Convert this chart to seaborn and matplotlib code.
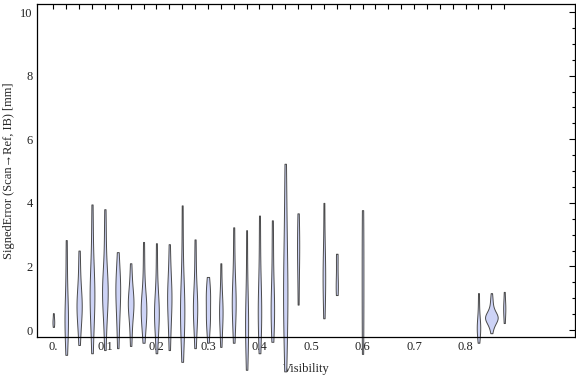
import numpy as np
import pandas as pd
import matplotlib
matplotlib.use("Agg")
import matplotlib.pyplot as plt
from matplotlib.ticker import MultipleLocator, FixedLocator
import seaborn as sns

sns.set_style("white")
plt.rcParams['font.family'] = ['Liberation Serif', 'DejaVu Serif']

# visibility bins (x positions of the violins)
visibility = [0.0, 0.025, 0.05, 0.075, 0.1, 0.125, 0.15, 0.175, 0.2, 0.225,
              0.25, 0.275, 0.3, 0.325, 0.35, 0.375, 0.4, 0.425, 0.45, 0.475,
              0.525, 0.55, 0.6, 0.825, 0.85, 0.875]

# signed error samples [mm], one list per visibility bin
e_000 = [0.1, 0.25, 0.3, 0.53]
e_025 = [-0.78, -0.1, 0.25, 0.35, 0.5, 1.0, 1.9, 2.83]
e_050 = [-0.47, 0.0, 0.3, 0.5, 0.65, 0.75, 0.85, 1.0, 1.2, 1.5, 2.0, 2.5]
e_075 = [-0.73, 0.0, 0.5, 0.8, 1.0, 1.2, 1.4, 1.6, 2.2, 3.0, 3.95]
e_100 = [-0.63, 0.0, 0.5, 0.85, 1.05, 1.15, 1.25, 1.35, 1.5, 1.8, 2.4, 3.1, 3.8]
e_125 = [-0.57, 0.0, 0.4, 0.7, 0.95, 1.15, 1.35, 1.5, 1.65, 2.0, 2.45]
e_150 = [-0.5, -0.1, 0.25, 0.5, 0.65, 0.75, 0.85, 0.9, 1.0, 1.15, 1.35, 1.7, 2.1]
e_175 = [-0.4, -0.05, 0.2, 0.4, 0.55, 0.62, 0.7, 0.78, 0.9, 1.1, 1.5, 2.1, 2.77]
e_200 = [-0.73, -0.2, 0.15, 0.35, 0.5, 0.6, 0.7, 0.85, 1.2, 1.9, 2.73]
e_225 = [-0.63, 0.0, 0.4, 0.7, 0.95, 1.1, 1.25, 1.5, 2.0, 2.7]
e_250 = [-1.0, -0.3, 0.2, 0.45, 0.65, 0.8, 1.0, 1.5, 2.6, 3.92]
e_275 = [-0.57, 0.0, 0.4, 0.6, 0.72, 0.8, 0.95, 1.4, 2.1, 2.85]
e_300 = [-0.4, 0.05, 0.3, 0.4, 0.5, 0.95, 1.05, 1.15, 1.35, 1.67]
e_325 = [-0.53, 0.0, 0.4, 0.55, 0.65, 0.8, 1.3, 2.1]
e_350 = [-0.4, 0.2, 0.6, 0.85, 0.95, 1.05, 1.5, 2.3, 3.23]
e_375 = [-1.25, -0.3, 0.15, 0.3, 0.45, 1.6, 3.14]
e_400 = [-0.73, 0.0, 0.45, 0.65, 0.8, 1.3, 2.4, 3.6]
e_425 = [-0.37, 0.3, 0.6, 0.7, 0.8, 1.5, 2.45, 3.45]
e_450 = [-1.3, -0.4, 0.3, 0.8, 1.2, 1.6, 2.2, 3.0, 4.0, 5.23]
e_475 = [0.8, 1.9, 2.6, 2.8, 3.67]
e_525 = [0.37, 1.3, 1.65, 1.8, 2.6, 4.0]
e_550 = [1.1, 1.4, 1.5, 2.25, 2.4]
e_600 = [-0.75, 0.8, 2.3, 3.77]
e_825 = [-0.4, -0.1, 0.0, 0.1, 0.15, 0.3, 0.7, 1.16]
e_850 = [-0.1, 0.0, 0.1, 0.15, 0.2, 0.22, 0.25, 0.28, 0.3, 0.33, 0.35, 0.36,
         0.38, 0.4, 0.41, 0.42, 0.44, 0.45, 0.48, 0.5, 0.52, 0.55, 0.6, 0.65,
         0.7, 0.8, 0.9, 1.0, 1.16]
e_875 = [0.22, 0.55, 0.7, 0.8, 1.2]

errors = [e_000, e_025, e_050, e_075, e_100, e_125, e_150, e_175, e_200,
          e_225, e_250, e_275, e_300, e_325, e_350, e_375, e_400, e_425,
          e_450, e_475, e_525, e_550, e_600, e_825, e_850, e_875]

x_labels = ["0.", "0.1", "0.2", "0.3", "0.4", "0.5", "0.6", "0.7", "0.8"]

rows = []
for v, errs in zip(visibility, errors):
    for e in errs:
        rows.append((v, e))
df = pd.DataFrame(rows, columns=["Visibility", "Error"])

fig = plt.figure(figsize=(5.76, 3.77), dpi=100)
ax = fig.add_axes([0.064, 0.106, 0.934, 0.883])

# violin width follows the number of samples in each bin
sns.violinplot(data=df, x="Visibility", y="Error", native_scale=True, orient="x",
               cut=0, bw_adjust=0.9, density_norm="count", inner=None,
               width=0.98, color="#cdd3f6", saturation=1,
               linecolor="#4a4a4a", linewidth=0.7, ax=ax)
for c in ax.collections:
    c.set_clip_on(False)

ax.set_xlim(-0.032, 1.012)
ax.set_ylim(-0.22, 10.25)

ax.xaxis.set_major_locator(FixedLocator([0.1 * i for i in range(9)]))
ax.set_xticklabels(x_labels)
ax.xaxis.set_minor_locator(FixedLocator([0.025 * i for i in range(36)]))
ax.yaxis.set_major_locator(MultipleLocator(2))
ax.yaxis.set_minor_locator(MultipleLocator(0.5))

ax.tick_params(axis="both", which="both", direction="in", top=True, right=True,
               color="black", labelsize=9, labelcolor="#222222", pad=3)
ax.tick_params(axis="x", which="both", length=3.5, width=0.8)
ax.tick_params(axis="y", which="major", length=4.5, width=0.8)
ax.tick_params(axis="y", which="minor", length=2.5, width=0.8)

for s in ax.spines.values():
    s.set_color("black")
    s.set_linewidth(0.9)

ax.set_xlabel("Visibility", fontsize=9, labelpad=7)
ax.set_ylabel("SignedError (Scan\u2192Ref, IB) [mm]", fontsize=9, labelpad=4)

fig.savefig("out.png", dpi=100)
